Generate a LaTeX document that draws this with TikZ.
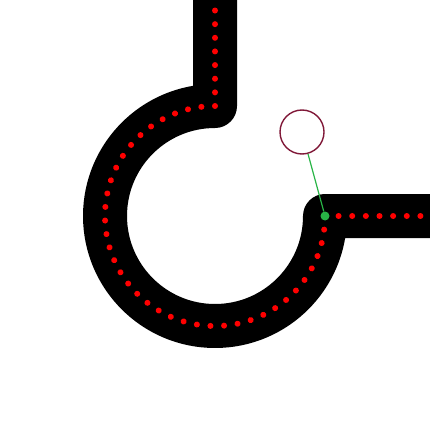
\documentclass[tikz,border=0pt]{standalone}
\usepackage{tikz}
\usetikzlibrary {decorations.markings}
\definecolor{ringcol}{RGB}{128,24,56}
\definecolor{tipcol}{RGB}{40,180,70}
\pgfmathsetmacro{\r}{110}
\pgfmathsetmacro{\gap}{\r * pi * 1.5 / 38}
\pgfmathsetmacro{\ystart}{-106 + 7 * \gap}

\begin{document}
\begin{tikzpicture}[x=1pt, y=1pt]
		\useasboundingbox (0, 0) rectangle (430, -430);
		\clip (0, 0) rectangle (430, -430);
		\draw[line width = 44pt, line join = round] (215, 20) -- (215, -106) arc[start angle=90, end angle=360, radius=\r] -- (450, -216);
		\path[postaction={decorate}, decoration={markings, mark=between positions 0 and 1 step \gap pt with {\fill[red] (0, 0) circle (3pt);}}] (215, \ystart) -- (215, -106) arc[start angle=90, end angle=360, radius=\r] -- (430, -216);
		\node[circle, draw=ringcol, line width = 1.4pt, minimum size = 44pt, inner sep = 0pt] (ring) at (302, -132) {};
		\node[circle, fill=tipcol, minimum size = 9pt, inner sep = 0pt] (tip) at (325, -216) {};
		\draw[tipcol, line width = 1.2pt] (ring) -- (tip);
	\end{tikzpicture}
\end{document}
